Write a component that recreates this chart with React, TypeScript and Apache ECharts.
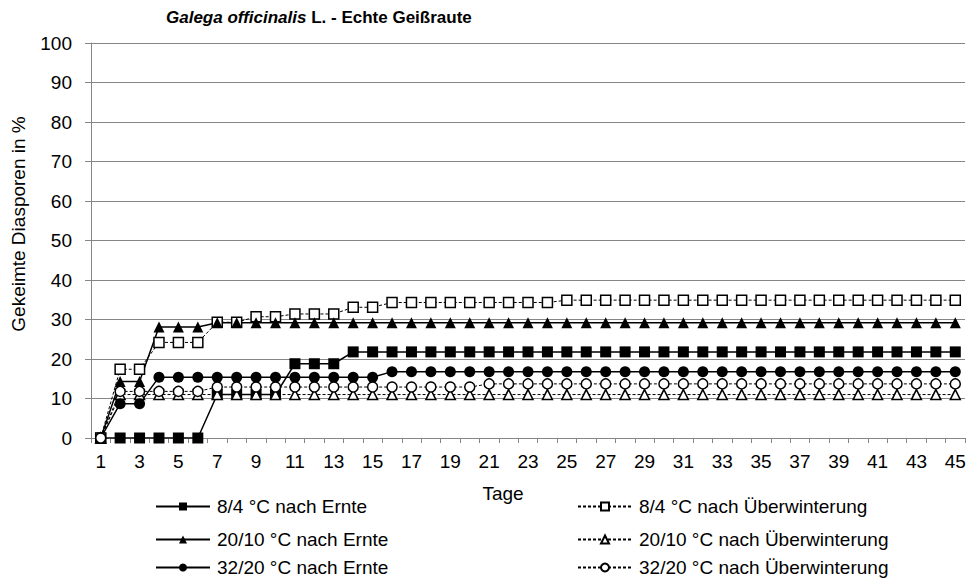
import React, { useEffect, useRef } from "react";
import * as echarts from "echarts";

const days = ["1","2","3","4","5","6","7","8","9","10","11","12","13","14","15","16","17","18","19","20","21","22","23","24","25","26","27","28","29","30","31","32","33","34","35","36","37","38","39","40","41","42","43","44","45"];

const yTicks = [0, 10, 20, 30, 40, 50, 60, 70, 80, 90, 100];

const s84Ernte = [0,0,0,0,0,0,11,11,11,11,18.8,18.8,18.8,21.8,21.8,21.8,21.8,21.8,21.8,21.8,21.8,21.8,21.8,21.8,21.8,21.8,21.8,21.8,21.8,21.8,21.8,21.8,21.8,21.8,21.8,21.8,21.8,21.8,21.8,21.8,21.8,21.8,21.8,21.8,21.8];
const s84Ueber = [0,17.4,17.4,24.2,24.2,24.2,29.3,29.3,30.7,30.7,31.4,31.4,31.4,33.1,33.1,34.3,34.3,34.3,34.3,34.3,34.3,34.3,34.3,34.3,34.9,34.9,34.9,34.9,34.9,34.9,34.9,34.9,34.9,34.9,34.9,34.9,34.9,34.9,34.9,34.9,34.9,34.9,34.9,34.9,34.9];
const s2010Ernte = [0,14.3,14.3,28.1,28.1,28.1,29.2,29.2,29.2,29.2,29.2,29.2,29.2,29.2,29.2,29.2,29.2,29.2,29.2,29.2,29.2,29.2,29.2,29.2,29.2,29.2,29.2,29.2,29.2,29.2,29.2,29.2,29.2,29.2,29.2,29.2,29.2,29.2,29.2,29.2,29.2,29.2,29.2,29.2,29.2];
const s2010Ueber = [0,11,11,11,11,11,11,11,11,11,11,11,11,11,11,11,11,11,11,11,11,11,11,11,11,11,11,11,11,11,11,11,11,11,11,11,11,11,11,11,11,11,11,11,11];
const s3220Ernte = [0,8.7,8.7,15.4,15.4,15.4,15.4,15.4,15.4,15.4,15.4,15.4,15.4,15.4,15.4,16.8,16.8,16.8,16.8,16.8,16.8,16.8,16.8,16.8,16.8,16.8,16.8,16.8,16.8,16.8,16.8,16.8,16.8,16.8,16.8,16.8,16.8,16.8,16.8,16.8,16.8,16.8,16.8,16.8,16.8];
const s3220Ueber = [0,11.8,11.8,11.8,11.8,11.8,12.9,12.9,12.9,12.9,12.9,12.9,12.9,12.9,12.9,12.9,12.9,12.9,12.9,12.9,13.7,13.7,13.7,13.7,13.7,13.7,13.7,13.7,13.7,13.7,13.7,13.7,13.7,13.7,13.7,13.7,13.7,13.7,13.7,13.7,13.7,13.7,13.7,13.7,13.7];

const names = [
  "8/4 °C nach Ernte",
  "8/4 °C nach Überwinterung",
  "20/10 °C nach Ernte",
  "20/10 °C nach Überwinterung",
  "32/20 °C nach Ernte",
  "32/20 °C nach Überwinterung",
];

const FONT = "'Liberation Sans', Arial, sans-serif";
const GRID_COLOR = "#868686";

function mkSeries(name: string, data: number[], symbol: string, filled: boolean) {
  return {
    name,
    type: "line",
    data,
    symbol,
    symbolSize: filled ? 11 : 10,
    showSymbol: true,
    lineStyle: filled
      ? { color: "#000", width: 1.5, type: "solid" }
      : { color: "#000", width: 1, type: [3, 2] },
    itemStyle: filled
      ? { color: "#000", borderColor: "#000", borderWidth: 0 }
      : { color: "#fff", borderColor: "#000", borderWidth: 1.5 },
    emphasis: { disabled: true },
  };
}

export default function App() {
  const ref = useRef<HTMLDivElement>(null);
  useEffect(() => {
    document.body.style.margin = "0";
    if (!ref.current) return;
    const chart = echarts.init(ref.current, null, { renderer: "svg" });
    const rowTops = [497, 530, 558];
    const colLefts = [155, 577];
    const legends = names.map((n, i) => ({
      orient: "horizontal",
      left: colLefts[i % 2],
      top: rowTops[Math.floor(i / 2)],
      itemWidth: 54,
      itemHeight: 10,
      padding: 0,
      textStyle: { fontSize: 19, fontFamily: FONT, color: "#000", padding: [0, 0, 0, 2] },
      selectedMode: false,
      data: [n],
    }));
    chart.setOption({
      animation: false,
      backgroundColor: "#fff",
      title: {
        text: "{i|Galega officinalis}{b| L. - Echte Geißraute}",
        left: 166,
        top: 9,
        padding: 0,
        textStyle: {
          rich: {
            i: { fontStyle: "italic", fontWeight: "bold", fontSize: 17, fontFamily: FONT, color: "#000" },
            b: { fontWeight: "bold", fontSize: 17, fontFamily: FONT, color: "#000" },
          },
        },
      },
      grid: { left: 91, right: 6, top: 43, bottom: 581 - 438, containLabel: false },
      xAxis: {
        type: "category",
        data: days,
        boundaryGap: true,
        axisLine: { lineStyle: { color: GRID_COLOR, width: 1 } },
        axisTick: { show: true, interval: 0, length: 5, lineStyle: { color: GRID_COLOR } },
        axisLabel: { interval: 1, margin: 14, fontSize: 19, fontFamily: FONT, color: "#000" },
        splitLine: { show: false },
      },
      yAxis: {
        type: "value",
        min: yTicks[0],
        max: yTicks[yTicks.length - 1],
        interval: 10,
        axisLine: { show: true, lineStyle: { color: GRID_COLOR, width: 1 } },
        axisTick: { show: true, length: 6, lineStyle: { color: GRID_COLOR } },
        axisLabel: { margin: 19, fontSize: 19, fontFamily: FONT, color: "#000" },
        splitLine: { show: true, lineStyle: { color: GRID_COLOR, width: 1 } },
      },
      graphic: [
        {
          type: "text",
          x: 18,
          y: 224,
          rotation: Math.PI / 2,
          style: {
            text: "Gekeimte Diasporen in %",
            fontSize: 19,
            fontFamily: FONT,
            fill: "#000",
            align: "center",
            verticalAlign: "middle",
          },
        },
        {
          type: "text",
          x: 503,
          y: 493,
          style: {
            text: "Tage",
            fontSize: 19,
            fontFamily: FONT,
            fill: "#000",
            align: "center",
            verticalAlign: "middle",
          },
        },
      ],
      legend: legends,
      series: [
        mkSeries(names[0], s84Ernte, "rect", true),
        mkSeries(names[1], s84Ueber, "rect", false),
        mkSeries(names[2], s2010Ernte, "triangle", true),
        mkSeries(names[3], s2010Ueber, "triangle", false),
        mkSeries(names[4], s3220Ernte, "circle", true),
        mkSeries(names[5], s3220Ueber, "circle", false),
      ],
    });
    return () => chart.dispose();
  }, []);
  return <div ref={ref} style={{ width: 971, height: 581 }} />;
}
